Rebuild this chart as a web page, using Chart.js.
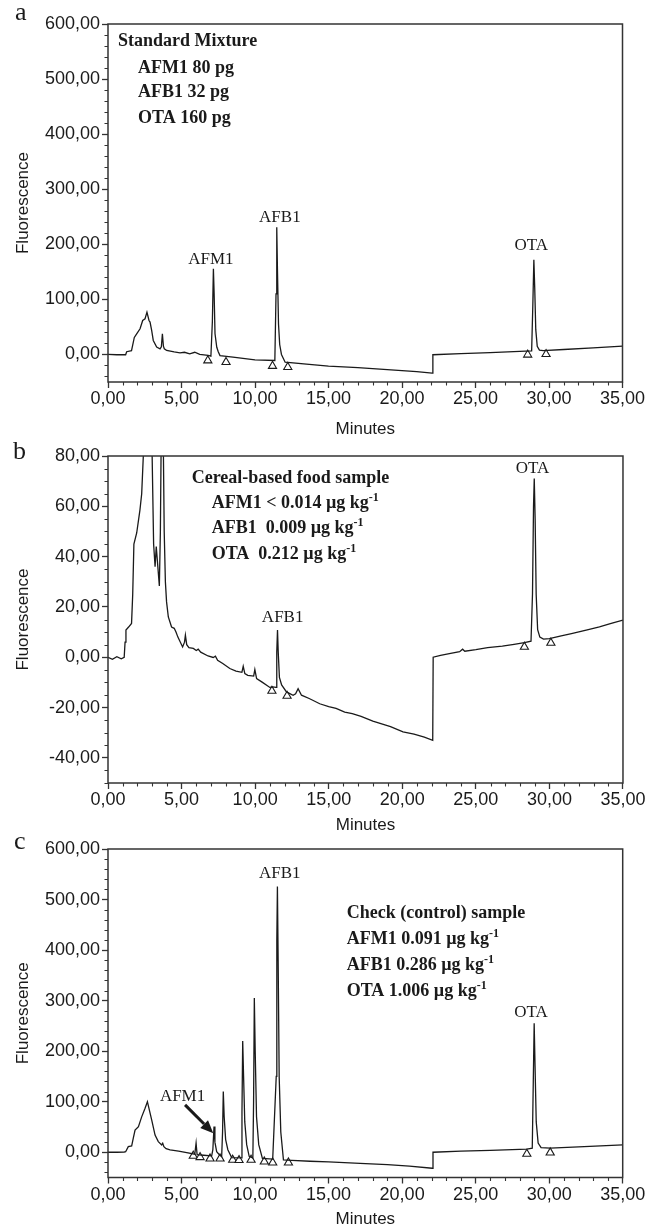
<!DOCTYPE html>
<html lang="en">
<head>
<meta charset="UTF-8">
<title>HPLC-FLD chromatograms: AFM1, AFB1, OTA</title>
<script src="https://cdn.jsdelivr.net/npm/chart.js"></script>
<style>
  body { margin: 0; background: #fff; }
  .panel { position: absolute; left: 0; width: 648px; }
</style>
</head>
<body>
<div class="panel" style="top:0"><canvas id="chartA" width="648" height="440"></canvas></div>
<div class="panel" style="top:440px"><canvas id="chartB" width="648" height="395"></canvas></div>
<div class="panel" style="top:835px"><canvas id="chartC" width="648" height="393"></canvas></div>

<script>
// ---- data (minutes, fluorescence) ----

// a: standard mixture
const timesA = [0, 0.6, 1.2, 1.27, 1.6, 1.79, 1.95, 2.18, 2.36, 2.52,
  2.65, 2.79, 2.86, 2.97, 3.08, 3.31, 3.54, 3.63, 3.7, 3.77,
  3.83, 3.99, 4.5, 4.9, 5.2, 5.56, 5.9, 6.24, 6.81, 7.0,
  7.1, 7.17, 7.22, 7.28, 7.4, 7.5, 7.62, 8.5, 10.0, 11.35,
  11.43, 11.48, 11.53, 11.6, 11.68, 11.8, 12.05, 13.5, 15.0, 17.0,
  19.0, 21.0, 22.05, 22.1, 24.0, 26.0, 28.0, 28.82, 28.9, 28.97,
  29.03, 29.1, 29.2, 29.35, 29.6, 31.0, 33.0, 35.0];
const fluoA = [0, -0.5, -0.5, 5, 7, 31, 37.5, 46.6, 61.7, 64.8,
  76.8, 61.7, 58.8, 43.6, 25.4, 13.3, 10.3, 14, 37.6, 15,
  10.3, 7.3, 4.5, 3, 4, 1, 4, 0, -1.8, -3,
  60, 155.5, 110, 37.5, 13, 5, -2, -5, -9.7, -11,
  110, 231, 150, 55, 18, 0, -14, -17.5, -21, -24,
  -27.5, -31, -34, -0.5, 1.5, 3.5, 5.5, 6.5, 90, 172,
  120, 45, 15, 8, 7, 9, 12, 15];
const triTimesA = [6.79, 8.03, 11.19, 12.23, 28.55, 29.8];
const triFluoA = [-11, -14, -21, -23, -0.5, 0.5];

// b: cereal-based food sample
const timesB = [0, 0.3, 0.6, 0.9, 1.1, 1.16, 1.22, 1.4, 1.6, 1.68,
  1.76, 1.95, 2.17, 2.29, 2.4, 2.55, 2.75, 2.9, 3.0, 3.1,
  3.2, 3.28, 3.36, 3.49, 3.56, 3.62, 3.68, 3.75, 3.82, 3.9,
  3.98, 4.1, 4.32, 4.5, 4.62, 4.75, 5.07, 5.2, 5.26, 5.35,
  5.5, 5.8, 6.0, 6.13, 6.3, 6.8, 7.15, 7.3, 7.45, 7.8,
  8.28, 8.7, 9.1, 9.19, 9.3, 9.5, 9.9, 9.98, 10.1, 10.5,
  11.0, 11.2, 11.42, 11.47, 11.52, 11.57, 11.65, 11.8, 12.13, 12.58,
  12.75, 12.92, 13.15, 13.71, 14.39, 15.0, 15.5, 16.09, 16.6, 17.2,
  18.0, 18.6, 19.2, 20.05, 20.8, 21.5, 22.07, 22.1, 22.6, 23.2,
  23.9, 24.1, 24.25, 25.0, 25.8, 26.8, 27.6, 28.3, 28.75, 28.85,
  28.92, 28.97, 29.03, 29.1, 29.2, 29.35, 29.6, 30.0, 30.8, 31.5,
  32.5, 33.4, 34.2, 35.0];
const fluoB = [0, -0.8, 0.2, -0.6, 0, 6, 10.8, 12, 13.4, 25,
  45, 49.4, 58.5, 65, 80, 130, 160, 120, 80, 45,
  36, 44, 38, 28.3, 50, 90, 180, 90, 50, 30,
  22, 16, 12, 11.5, 10, 8, 4.1, 6, 8.8, 5,
  3.8, 3.5, 2.7, 3.2, 2, 0.5, -0.1, 0.4, -1.2, -2.5,
  -4.5, -5.5, -6, -3.6, -6.5, -7.2, -7.5, -4.9, -8.5, -10,
  -12, -11.8, -12, 2, 10.8, 2, -8, -11, -13.8, -15.1,
  -14.5, -12.5, -15.1, -16.5, -18.5, -19.6, -20.3, -21.8, -22.4, -23.5,
  -25.4, -26.5, -27.6, -29.7, -30.6, -31.8, -33, 0, 0.7, 1.4,
  2.2, 3.2, 2.4, 3, 3.8, 4.4, 5.1, 5.8, 6.4, 25,
  60, 71, 55, 25, 11, 8, 7.2, 7.4, 8.5, 9.4,
  10.8, 12.1, 13.5, 14.8];
const triTimesB = [11.14, 12.17, 28.3, 30.1];
const triFluoB = [-13.4, -15.4, 4.1, 5.7];

// c: check (control) sample
const timesC = [0, 0.6, 1.1, 1.2, 1.38, 1.61, 1.72, 1.84, 2.07, 2.29,
  2.52, 2.68, 2.81, 2.97, 3.2, 3.42, 3.65, 3.72, 3.8, 3.95,
  4.22, 4.8, 5.35, 5.9, 5.99, 6.06, 6.5, 7.05, 7.13, 7.21,
  7.27, 7.39, 7.6, 7.73, 7.79, 7.84, 7.9, 8.0, 8.15, 8.41,
  9.05, 9.11, 9.16, 9.22, 9.3, 9.43, 9.6, 9.85, 9.9, 9.95,
  10.01, 10.1, 10.25, 10.5, 11.2, 11.44, 11.48, 11.52, 11.57, 11.64,
  11.75, 11.93, 12.5, 13.74, 15.0, 17.14, 19.0, 20.5, 22.05, 22.1,
  24.0, 26.0, 28.48, 28.85, 28.92, 28.98, 29.04, 29.12, 29.25, 29.45,
  30.07, 32.0, 35.0];
const fluoC = [0, 0, 0.5, 1, 11, 12.5, 27.7, 44, 50.7, 70,
  87, 100, 84, 64, 34, 21, 14.5, 17.8, 11, 7,
  4.5, 2, -0.8, -4, 18, -5, -6, -7.3, 5, 51,
  20, 1, -6, -8.7, 40, 120, 70, 25, 5, -10.7,
  -11, 80, 220, 150, 60, 15, -8, -11.5, 100, 305,
  200, 70, 15, -12, -13.5, 150, 420, 526, 380, 150,
  40, -15.2, -16, -17.8, -19, -22, -24.5, -27.5, -31.7, 0,
  2, 3.5, 6, 8, 140, 255, 170, 60, 18, 9,
  8, 10.5, 14.5];
const triTimesC = [5.8, 6.26, 6.94, 7.62, 8.48, 8.91, 9.73, 10.63, 11.2, 12.27, 28.48, 30.07];
const triFluoC = [-7.3, -9.9, -12.7, -12.7, -15.2, -15.8, -15.2, -18.6, -20.6, -20.6, -3.4, -0.7];

// axis ticks
const xTicks = [0, 5, 10, 15, 20, 25, 30, 35];
const yTicksA = [0, 100, 200, 300, 400, 500, 600];
const yTicksB = [-40, -20, 0, 20, 40, 60, 80];
const yTicksC = [0, 100, 200, 300, 400, 500, 600];

const fmt = v => v.toFixed(2).replace('.', ',');
const SANS = '"Liberation Sans", Arial, Helvetica, sans-serif';
const SERIF = '"Liberation Serif", "Times New Roman", serif';
const INK = '#1a1a1a';

// frame, minor ticks, text annotations, arrow
const decor = {
  id: 'decor',
  afterDraw(chart, args, o) {
    const { ctx, chartArea: a, scales: { x, y } } = chart;
    ctx.save();
    ctx.strokeStyle = '#333';
    ctx.lineWidth = 1.5;
    ctx.strokeRect(a.left, a.top, a.right - a.left, a.bottom - a.top);

    // minor ticks
    ctx.lineWidth = 1.1;
    ctx.beginPath();
    for (let t = x.min; t <= x.max; t += o.xMinor) {
      if (t % 5 === 0) continue;
      const px = Math.round(x.getPixelForValue(t)) + 0.5;
      ctx.moveTo(px, a.bottom); ctx.lineTo(px, a.bottom + 3.5);
    }
    for (let v = Math.ceil(y.min / o.yMinor) * o.yMinor; v <= y.max; v += o.yMinor) {
      if (v % o.yMajor === 0) continue;
      const py = Math.round(y.getPixelForValue(v)) + 0.5;
      ctx.moveTo(a.left, py); ctx.lineTo(a.left - 3.5, py);
    }
    ctx.stroke();

    ctx.fillStyle = INK;
    ctx.textAlign = 'left';
    ctx.textBaseline = 'alphabetic';

    // panel letter
    ctx.font = '26px ' + SERIF;
    ctx.fillText(o.letter[0], o.letter[1], o.letter[2]);

    // peak labels
    ctx.font = '17px ' + SERIF;
    ctx.textAlign = 'center';
    o.peaks.forEach(([txt, t, v]) => {
      ctx.fillText(txt, x.getPixelForValue(t), y.getPixelForValue(v) + 5.6);
    });

    // info block, "^" marks a superscript
    ctx.textAlign = 'left';
    o.info.forEach(([txt, dx, dy]) => {
      const [main, sup] = txt.split('^');
      const bx = a.left + dx, by = a.top + dy + 6;
      ctx.font = 'bold 18px ' + SERIF;
      ctx.fillText(main, bx, by);
      if (sup) {
        const w = ctx.measureText(main).width;
        ctx.font = 'bold 12px ' + SERIF;
        ctx.fillText(sup, bx + w, by - 7);
      }
    });

    // arrow
    if (o.arrow) {
      const x1 = x.getPixelForValue(o.arrow.from[0]), y1 = y.getPixelForValue(o.arrow.from[1]);
      const x2 = x.getPixelForValue(o.arrow.to[0]), y2 = y.getPixelForValue(o.arrow.to[1]);
      const ang = Math.atan2(y2 - y1, x2 - x1), c = Math.cos(ang), s = Math.sin(ang);
      const hl = 13, hw = 5.5;
      ctx.strokeStyle = INK;
      ctx.lineWidth = 3;
      ctx.beginPath();
      ctx.moveTo(x1, y1);
      ctx.lineTo(x2 - hl * c, y2 - hl * s);
      ctx.stroke();
      ctx.beginPath();
      ctx.moveTo(x2, y2);
      ctx.lineTo(x2 - hl * c + hw * s, y2 - hl * s - hw * c);
      ctx.lineTo(x2 - hl * c - hw * s, y2 - hl * s + hw * c);
      ctx.closePath();
      ctx.fill();
    }
    ctx.restore();
  }
};

function makeChart(id, p) {
  return new Chart(document.getElementById(id), {
    type: 'line',
    data: {
      datasets: [
        {
          data: p.times.map((t, i) => ({ x: t, y: p.values[i] })),
          borderColor: INK, borderWidth: 1.3, pointRadius: 0, tension: 0
        },
        {
          data: p.triTimes.map((t, i) => ({ x: t, y: p.triValues[i] })),
          showLine: false, pointStyle: 'triangle', pointRadius: 4.7,
          pointBackgroundColor: '#fff', pointBorderColor: INK, pointBorderWidth: 1.1
        }
      ]
    },
    options: {
      responsive: false,
      animation: false,
      events: [],
      layout: { padding: { top: p.padTop, right: p.padRight, left: 0, bottom: 0 } },
      plugins: { legend: { display: false }, tooltip: { enabled: false }, decor: p.decor },
      scales: {
        x: {
          type: 'linear', min: 0, max: 35,
          afterBuildTicks: s => { s.ticks = xTicks.map(v => ({ value: v })); },
          afterFit: s => { s.height = p.xHeight; },
          border: { display: false },
          grid: { drawOnChartArea: false, tickLength: 6, tickColor: '#333', tickWidth: 1.3 },
          ticks: { color: INK, padding: 2.5, maxRotation: 0, font: { family: SANS, size: 18, lineHeight: 1 }, callback: v => fmt(v) },
          title: { display: true, text: 'Minutes', color: INK, padding: { top: 0, bottom: p.titlePad }, font: { family: SANS, size: 17, lineHeight: 1 } }
        },
        y: {
          min: p.yMin, max: p.yMax,
          afterBuildTicks: s => { s.ticks = p.yTicks.map(v => ({ value: v })); },
          afterFit: s => { s.width = 108; },
          border: { display: false },
          grid: { drawOnChartArea: false, tickLength: 6, tickColor: '#333', tickWidth: 1.3 },
          ticks: { color: INK, padding: 2, font: { family: SANS, size: 18, lineHeight: 1 }, callback: v => fmt(v) },
          title: { display: true, text: 'Fluorescence', color: INK, padding: { top: 14.5, bottom: 0 }, font: { family: SANS, size: 17, lineHeight: 1 } }
        }
      }
    },
    plugins: [decor]
  });
}

makeChart('chartA', {
  times: timesA, values: fluoA, triTimes: triTimesA, triValues: triFluoA,
  yMin: -50, yMax: 600, yTicks: yTicksA,
  padTop: 24, padRight: 25.5, xHeight: 58, titlePad: 2.5,
  decor: {
    xMinor: 1, yMinor: 20, yMajor: 100,
    letter: ['a', 15, 20],
    peaks: [['AFM1', 7.0, 175], ['AFB1', 11.69, 251], ['OTA', 28.8, 199]],
    info: [['Standard Mixture', 10, 16], ['AFM1 80 pg', 30, 42.7], ['AFB1 32 pg', 30, 66.7], ['OTA 160 pg', 30, 92.7]]
  }
});

makeChart('chartB', {
  times: timesB, values: fluoB, triTimes: triTimesB, triValues: triFluoB,
  yMin: -50, yMax: 80, yTicks: yTicksB,
  padTop: 16, padRight: 24.5, xHeight: 52, titlePad: 1.5,
  decor: {
    xMinor: 1, yMinor: 5, yMajor: 20,
    letter: ['b', 13, 19.3],
    peaks: [['AFB1', 11.87, 16.4], ['OTA', 28.85, 75.3]],
    info: [['Cereal-based food sample', 83.7, 20.7], ['AFM1 < 0.014 µg kg^-1', 103.7, 46.3],
      ['AFB1  0.009 µg kg^-1', 103.7, 70.7], ['OTA  0.212 µg kg^-1', 103.7, 96.7]]
  }
});

makeChart('chartC', {
  times: timesC, values: fluoC, triTimes: triTimesC, triValues: triFluoC,
  yMin: -50, yMax: 600, yTicks: yTicksC,
  padTop: 14, padRight: 25.3, xHeight: 50.5, titlePad: 0,
  decor: {
    xMinor: 1, yMinor: 20, yMajor: 100,
    letter: ['c', 14, 14.3],
    peaks: [['AFM1', 5.07, 111.5], ['AFB1', 11.68, 553], ['OTA', 28.76, 278]],
    info: [['Check (control) sample', 238.7, 62.7], ['AFM1 0.091 µg kg^-1', 238.7, 89.3],
      ['AFB1 0.286 µg kg^-1', 238.7, 115], ['OTA 1.006 µg kg^-1', 238.7, 141]],
    arrow: { from: [5.24, 93.7], to: [7.16, 37.6] }
  }
});
</script>
</body>
</html>
